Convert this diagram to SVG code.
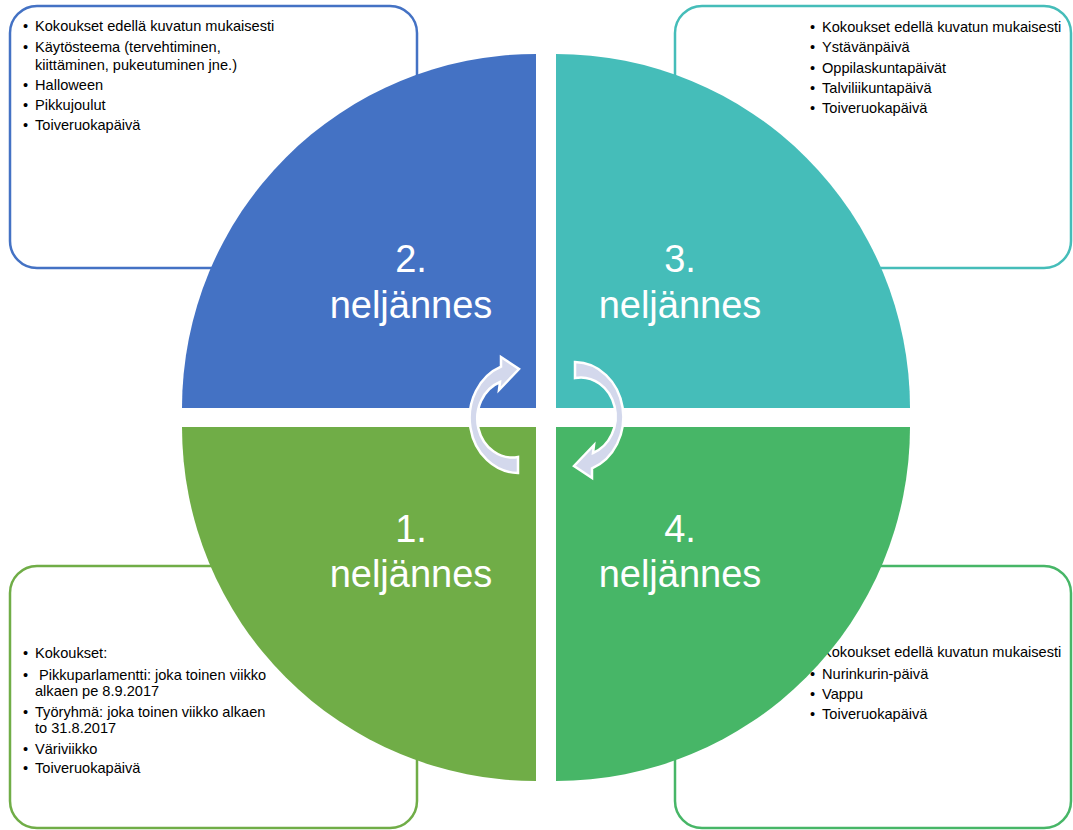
<svg xmlns="http://www.w3.org/2000/svg" xmlns:xlink="http://www.w3.org/1999/xlink" width="1073" height="830" viewBox="0 0 1073 830">
<style>
.box{fill:#fff;stroke-width:2.5}
.t{font-family:"Liberation Sans",Arial,sans-serif;font-size:14.6px;fill:#000}
.big{font-family:"Liberation Sans",Arial,sans-serif;font-size:38px;fill:#fff;text-anchor:middle}
.arrow{fill:#D3D8EC;stroke:#fff;stroke-width:2.5;stroke-linejoin:miter}
</style>
<defs>
<path id="arc" d="M 518 457 L 518 473 A 49 55 0 0 1 501 366.7 L 501 357 L 519 369 L 499 390 L 500 382 A 35 39 0 0 0 518 457 Z"/>
</defs>
<rect width="1073" height="830" fill="#fff"/>

<g id="box-q2">
<rect class="box" x="10" y="6" width="407" height="262" rx="27" stroke="#4472C4"/>
<text class="t" x="23" y="31">•</text><text class="t" x="35" y="31">Kokoukset edellä kuvatun mukaisesti</text>
<text class="t" x="23" y="52">•</text><text class="t" x="35" y="52">Käytösteema (tervehtiminen,</text>
<text class="t" x="35" y="70">kiittäminen, pukeutuminen jne.)</text>
<text class="t" x="23" y="90">•</text><text class="t" x="35" y="90">Halloween</text>
<text class="t" x="23" y="110">•</text><text class="t" x="35" y="110">Pikkujoulut</text>
<text class="t" x="23" y="130">•</text><text class="t" x="35" y="130">Toiveruokapäivä</text>
</g>

<g id="box-q3">
<rect class="box" x="675" y="6" width="396" height="262" rx="27" stroke="#45BDB9"/>
<text class="t" x="810" y="32">•</text><text class="t" x="822" y="32">Kokoukset edellä kuvatun mukaisesti</text>
<text class="t" x="810" y="52">•</text><text class="t" x="822" y="52">Ystävänpäivä</text>
<text class="t" x="810" y="73">•</text><text class="t" x="822" y="73">Oppilaskuntapäivät</text>
<text class="t" x="810" y="93">•</text><text class="t" x="822" y="93">Talviliikuntapäivä</text>
<text class="t" x="810" y="113">•</text><text class="t" x="822" y="113">Toiveruokapäivä</text>
</g>

<g id="box-q1">
<rect class="box" x="10" y="566" width="407" height="262" rx="27" stroke="#70AD47"/>
<text class="t" x="23" y="658">•</text><text class="t" x="35" y="658">Kokoukset:</text>
<text class="t" x="23" y="680">•</text><text class="t" x="39" y="680">Pikkuparlamentti: joka toinen viikko</text>
<text class="t" x="35" y="696">alkaen pe 8.9.2017</text>
<text class="t" x="23" y="717">•</text><text class="t" x="35" y="717">Työryhmä: joka toinen viikko alkaen</text>
<text class="t" x="35" y="733">to 31.8.2017</text>
<text class="t" x="23" y="754">•</text><text class="t" x="35" y="754">Väriviikko</text>
<text class="t" x="23" y="773">•</text><text class="t" x="35" y="773">Toiveruokapäivä</text>
</g>

<g id="box-q4">
<rect class="box" x="675" y="566" width="396" height="262" rx="27" stroke="#47B667"/>
<text class="t" x="810" y="657">•</text><text class="t" x="822" y="657">Kokoukset edellä kuvatun mukaisesti</text>
<text class="t" x="810" y="679">•</text><text class="t" x="822" y="679">Nurinkurin-päivä</text>
<text class="t" x="810" y="699">•</text><text class="t" x="822" y="699">Vappu</text>
<text class="t" x="810" y="719">•</text><text class="t" x="822" y="719">Toiveruokapäivä</text>
</g>

<g id="q2">
<path d="M 536 408 L 182 408 A 354 354 0 0 1 536 54 Z" fill="#4472C4"/>
<text class="big" x="411" y="272">2.</text>
<text class="big" x="411" y="318">neljännes</text>
</g>
<g id="q3">
<path d="M 556 408 L 556 54 A 354 354 0 0 1 910 408 Z" fill="#45BDB9"/>
<text class="big" x="680" y="272">3.</text>
<text class="big" x="680" y="318">neljännes</text>
</g>
<g id="q1">
<path d="M 536 427 L 536 781 A 354 354 0 0 1 182 427 Z" fill="#70AD47"/>
<text class="big" x="411" y="542">1.</text>
<text class="big" x="411" y="587">neljännes</text>
</g>
<g id="q4">
<path d="M 556 427 L 910 427 A 354 354 0 0 1 556 781 Z" fill="#47B667"/>
<text class="big" x="680" y="542">4.</text>
<text class="big" x="680" y="587">neljännes</text>
</g>

<g id="connectors">
<use xlink:href="#arc" class="arrow"/>
<use xlink:href="#arc" class="arrow" transform="rotate(180 546.5 417.5)"/>
</g>
</svg>
